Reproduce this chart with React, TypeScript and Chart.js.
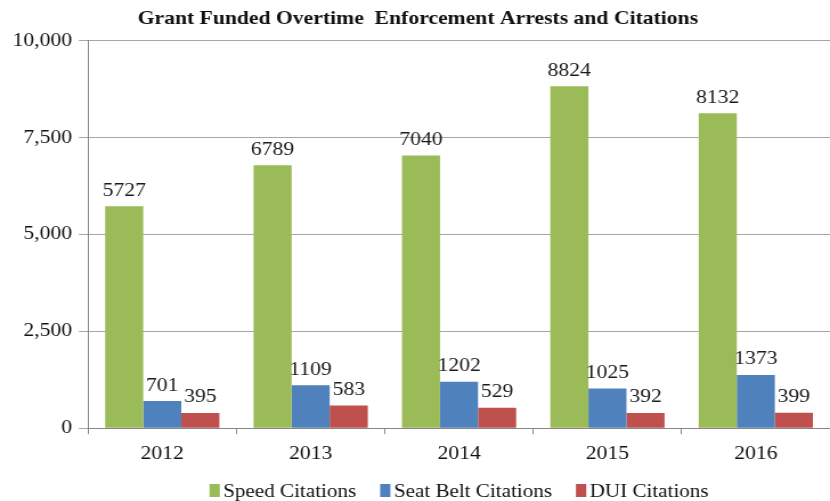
import React, { useEffect, useRef } from "react";
import { Chart, registerables } from "chart.js";

Chart.register(...registerables);

const categories = ["2012", "2013", "2014", "2015", "2016"];
const seriesNames = ["Speed Citations", "Seat Belt Citations", "DUI Citations"];
const speedCitations = [5727, 6789, 7040, 8824, 8132];
const seatBeltCitations = [701, 1109, 1202, 1025, 1373];
const duiCitations = [395, 583, 529, 392, 399];
const yTicks = [0, 2500, 5000, 7500, 10000];
const colors = ["#9BBB59", "#4F81BD", "#C0504D"];

const FONT = "'Liberation Serif', 'Times New Roman', serif";
const CANVAS_W = 728;
const DISPLAY_W = 830;
const H = 501;

Chart.defaults.font.family = FONT;
Chart.defaults.font.size = 19;
Chart.defaults.color = "#111";

const dataLabels = {
  id: "dataLabels",
  afterDatasetsDraw(chart: any) {
    const ctx = chart.ctx;
    ctx.save();
    ctx.font = `19px ${FONT}`;
    ctx.fillStyle = "#1a1a1a";
    ctx.textAlign = "center";
    ctx.textBaseline = "bottom";
    chart.data.datasets.forEach((ds: any, i: number) => {
      const meta = chart.getDatasetMeta(i);
      meta.data.forEach((bar: any, j: number) => {
        ctx.fillText(String(ds.data[j]), bar.x, bar.y - 6);
      });
    });
    ctx.restore();
  },
};

// Bottom legend drawn with tight box/text spacing like the reference
const bottomLegend = {
  id: "bottomLegend",
  afterDraw(chart: any) {
    const ctx = chart.ctx;
    const area = chart.chartArea;
    const boxW = 9;
    const boxH = 13;
    const gap = 3;
    const spacing = 21;
    const baseline = 497;
    ctx.save();
    ctx.font = `18.5px ${FONT}`;
    ctx.textBaseline = "alphabetic";
    ctx.textAlign = "left";
    const items = chart.data.datasets.map((ds: any) => ({
      text: ds.label,
      color: ds.backgroundColor,
      w: ctx.measureText(ds.label).width,
    }));
    const total =
      items.reduce((s: number, it: any) => s + boxW + gap + it.w, 0) + spacing * (items.length - 1);
    let x = (area.left + area.right) / 2 - total / 2;
    items.forEach((it: any) => {
      ctx.fillStyle = it.color;
      ctx.fillRect(x, baseline - boxH, boxW, boxH);
      ctx.fillStyle = "#111";
      ctx.fillText(it.text, x + boxW + gap, baseline);
      x += boxW + gap + it.w + spacing;
    });
    ctx.restore();
  },
};

export default function App() {
  const ref = useRef<HTMLCanvasElement>(null);
  useEffect(() => {
    document.body.style.margin = "0";
    const chart = new Chart(ref.current!, {
      type: "bar",
      data: {
        labels: categories,
        datasets: [
          { label: seriesNames[0], data: speedCitations, backgroundColor: colors[0] },
          { label: seriesNames[1], data: seatBeltCitations, backgroundColor: colors[1] },
          { label: seriesNames[2], data: duiCitations, backgroundColor: colors[2] },
        ],
      },
      options: {
        animation: false,
        responsive: false,
        maintainAspectRatio: false,
        devicePixelRatio: 1,
        layout: { padding: { left: 5, right: 0, top: 0, bottom: 34 } },
        datasets: { bar: { categoryPercentage: 0.77, barPercentage: 1 } },
        plugins: {
          title: {
            display: true,
            text: "Grant Funded Overtime  Enforcement Arrests and Citations",
            color: "#111",
            font: { family: FONT, size: 19, weight: "bold" },
            padding: { top: 8, bottom: 10 },
          },
          legend: { display: false },
          tooltip: { enabled: false },
        },
        scales: {
          x: {
            afterFit: (axis: any) => {
              axis.height -= 6;
            },
            grid: {
              display: true,
              offset: true,
              drawOnChartArea: false,
              drawTicks: true,
              tickLength: 6,
              color: "#868686",
            },
            border: { color: "#868686" },
            ticks: { color: "#111", font: { family: FONT, size: 19 }, padding: 8 },
          },
          y: {
            min: 0,
            max: 10000,
            afterBuildTicks: (axis: any) => {
              axis.ticks = yTicks.map((v) => ({ value: v }));
            },
            grid: { color: "#a6a6a6", tickLength: 8 },
            border: { color: "#868686" },
            ticks: {
              color: "#111",
              font: { family: FONT, size: 19 },
              padding: 6,
              callback: (v: any) => Number(v).toLocaleString("en-US"),
            },
          },
        },
      },
      plugins: [dataLabels, bottomLegend],
    });
    return () => chart.destroy();
  }, []);
  return (
    <canvas
      ref={ref}
      width={CANVAS_W}
      height={H}
      style={{ display: "block", width: DISPLAY_W + "px", height: H + "px" }}
    />
  );
}
